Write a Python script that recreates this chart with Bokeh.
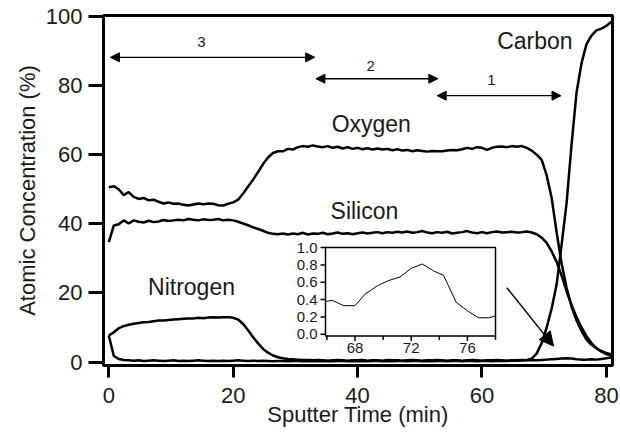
from bokeh.plotting import figure
from bokeh.models import Arrow, NormalHead, ColumnDataSource, FixedTicker, Range1d
from bokeh.embed import file_html
from bokeh.resources import INLINE
from bokeh.core.properties import value

# ---------------- data ----------------
TIME = [0.0, 0.8, 1.6, 2.4, 3.2, 4.0, 4.8, 5.6, 6.4, 7.2,
        8.0, 8.8, 9.6, 10.4, 11.2, 12.0, 12.8, 13.6, 14.4, 15.2,
        16.0, 16.8, 17.6, 18.4, 19.2, 20.0, 20.8, 21.6, 22.4, 23.2,
        24.0, 24.8, 25.6, 26.4, 27.2, 28.0, 28.8, 29.6, 30.4, 31.2,
        32.0, 32.8, 33.6, 34.4, 35.2, 36.0, 36.8, 37.6, 38.4, 39.2,
        40.0, 40.8, 41.6, 42.4, 43.2, 44.0, 44.8, 45.6, 46.4, 47.2,
        48.0, 48.8, 49.6, 50.4, 51.2, 52.0, 52.8, 53.6, 54.4, 55.2,
        56.0, 56.8, 57.6, 58.4, 59.2, 60.0, 60.8, 61.6, 62.4, 63.2,
        64.0, 64.8, 65.6, 66.4, 67.2, 68.0, 68.8, 69.6, 70.4, 71.2,
        72.0, 72.8, 73.6, 74.4, 75.2, 76.0, 76.8, 77.6, 78.4, 79.2,
        80.0, 80.8]

OXYGEN = [50.6, 50.9, 50.0, 48.3, 49.2, 47.8, 47.2, 47.5, 46.8, 47.0,
          46.4, 45.9, 46.2, 45.8, 45.9, 45.5, 45.3, 45.6, 45.9, 45.7,
          45.9, 45.8, 45.4, 45.3, 45.8, 46.2, 47.0, 48.8, 50.8, 52.8,
          55.0, 57.3, 59.2, 60.5, 61.0, 61.0, 61.7, 61.5, 62.2, 62.5,
          62.3, 62.7, 62.4, 62.2, 62.5, 62.0, 62.3, 61.8, 62.2, 61.7,
          62.0, 61.6, 61.9, 61.5, 61.8, 61.5, 61.7, 61.3, 61.6, 61.2,
          61.4, 61.0, 61.3, 61.1, 60.9, 61.1, 61.0, 61.0, 61.2, 61.4,
          61.3, 61.6, 62.0, 61.7, 62.2, 62.0, 61.4, 62.0, 62.3, 62.4,
          62.2, 62.5, 62.3, 62.5, 62.0, 61.2, 60.0, 58.5, 54.0, 47.5,
          37.5, 28.5, 21.5, 16.0, 12.0, 9.0, 6.5, 5.0, 4.0, 3.2,
          2.6, 2.2]

SILICON = [34.7, 39.5, 39.9, 41.0, 40.1, 41.0, 40.6, 40.4, 40.9, 40.5,
           40.7, 41.1, 40.8, 41.0, 41.2, 41.0, 41.4, 41.2, 41.0, 41.3,
           41.1, 41.2, 41.4, 41.0, 41.2, 41.0, 40.6, 40.1, 39.6, 39.0,
           38.5, 38.0, 37.4, 37.1, 37.0, 37.2, 36.9, 37.2, 37.0, 37.4,
           36.9, 37.2, 37.1, 37.4, 37.0, 37.2, 37.5, 37.1, 37.3, 37.0,
           37.3, 37.5, 37.2, 37.4, 37.6, 37.3, 37.6, 37.4, 37.7, 37.5,
           37.8, 37.4, 37.6, 37.9, 37.5, 37.3, 37.6, 37.4, 37.7, 37.2,
           37.4, 37.6, 37.9, 37.5, 37.3, 37.6, 37.3, 37.6, 37.8, 37.5,
           37.6, 37.7, 37.5, 37.6, 37.8, 37.5, 37.0, 36.0, 34.5, 32.0,
           29.0, 25.0, 20.5, 16.5, 13.0, 10.0, 7.5, 5.5, 4.0, 3.0,
           2.3, 1.8]

NITROGEN = [7.7, 8.6, 9.8, 10.4, 10.8, 11.1, 11.3, 11.5, 11.6, 11.8,
            12.0, 12.0, 12.2, 12.3, 12.4, 12.5, 12.6, 12.6, 12.8, 12.7,
            12.9, 13.0, 12.9, 13.0, 13.0, 12.8, 12.3, 11.0, 9.2, 7.2,
            5.4, 3.8, 2.7, 1.9, 1.4, 1.1, 0.9, 0.8, 0.7, 0.6,
            0.6, 0.5, 0.6, 0.5, 0.4, 0.5, 0.6, 0.5, 0.4, 0.5,
            0.5, 0.6, 0.4, 0.5, 0.5, 0.4, 0.6, 0.5, 0.5, 0.4,
            0.5, 0.6, 0.5, 0.4, 0.5, 0.5, 0.6, 0.5, 0.4, 0.5,
            0.5, 0.4, 0.5, 0.6, 0.5, 0.4, 0.5, 0.5, 0.6, 0.5,
            0.4, 0.5, 0.5, 0.6, 0.5, 0.6, 0.5, 0.6, 0.7, 0.8,
            0.9, 1.0, 1.1, 1.0, 0.8, 0.7, 0.7, 0.8, 0.7, 0.9,
            1.1, 1.3]

CARBON = [7.7, 1.8, 0.9, 0.6, 0.5, 0.4, 0.5, 0.3, 0.4, 0.5,
          0.4, 0.3, 0.4, 0.5, 0.3, 0.4, 0.3, 0.4, 0.5, 0.4,
          0.3, 0.4, 0.3, 0.4, 0.3, 0.4, 0.5, 0.4, 0.3, 0.4,
          0.3, 0.4, 0.3, 0.2, 0.3, 0.3, 0.2, 0.3, 0.3, 0.2,
          0.3, 0.2, 0.3, 0.2, 0.3, 0.2, 0.3, 0.3, 0.2, 0.3,
          0.2, 0.3, 0.2, 0.3, 0.3, 0.2, 0.3, 0.2, 0.3, 0.3,
          0.2, 0.3, 0.3, 0.2, 0.3, 0.2, 0.3, 0.3, 0.2, 0.3,
          0.3, 0.2, 0.3, 0.3, 0.2, 0.3, 0.3, 0.2, 0.3, 0.3,
          0.3, 0.4, 0.4, 0.5, 0.6, 1.0, 2.5, 5.5, 10.0, 15.5,
          22.5, 34.0, 46.0, 63.0, 78.0, 86.5, 92.0, 94.5, 96.0, 96.5,
          97.3, 98.5]

X_TICKS = [0, 20, 40, 60, 80]
Y_TICKS = [0, 20, 40, 60, 80, 100]

# inset (zoomed trace)
INSET_T = [65.9, 66.4, 67.2, 68.0, 68.7, 69.6, 70.4, 71.2, 72.0,
           72.8, 73.6, 74.3, 75.2, 76.0, 76.8, 77.5, 78.0]
INSET_V = [0.38, 0.39, 0.33, 0.33, 0.46, 0.56, 0.62, 0.66, 0.76,
           0.81, 0.73, 0.68, 0.37, 0.27, 0.19, 0.19, 0.21]
INSET_X_TICKS = [68, 72, 76]
INSET_X_LABELS = ["68", "72", "76"]
INSET_X_MINOR = [66, 70, 74, 78]
INSET_Y_TICKS = [0.0, 0.2, 0.4, 0.6, 0.8, 1.0]
INSET_Y_LABELS = ["0.0", "0.2", "0.4", "0.6", "0.8", "1.0"]
INSET_X_RANGE = (65.9, 78.0)
INSET_Y_RANGE = (-0.02, 1.0)
# where the inset box sits, in the main plot's data units
INSET_BOX_X = (34.84, 62.17)
INSET_BOX_Y = (7.53, 33.14)

# annotations
SERIES_NAMES = ["Carbon", "Oxygen", "Silicon", "Nitrogen"]
NAME_X = [68.5, 42.2, 41.1, 13.3]
NAME_Y = [92.9, 68.9, 43.8, 21.6]

REGION_LABELS = ["3", "2", "1"]
REGION_START = [0.27, 33.3, 52.8]
REGION_END = [33.1, 52.9, 72.7]
REGION_Y = [88.2, 82.0, 77.1]
REGION_LABEL_X = [14.9, 42.1, 61.5]
REGION_LABEL_Y = [92.6, 85.8, 81.5]

POINTER_START = (64.0, 21.5)
POINTER_END = (71.5, 4.6)

FONT = "Liberation Sans"
INK = "#1a1a1a"

# ---------------- main figure ----------------
p = figure(width=620, height=433,
           x_range=Range1d(-0.85, 80.98), y_range=Range1d(-1.0, 100.3),
           output_backend="svg", toolbar_location=None,
           min_border_left=103, min_border_right=8,
           min_border_top=15, min_border_bottom=68)
p.grid.visible = False
p.outline_line_color = "black"
p.outline_line_width = 3
p.outline_line_alpha = 1.0
p.background_fill_color = "white"
p.border_fill_color = "white"

p.xaxis.ticker = FixedTicker(ticks=X_TICKS)
p.yaxis.ticker = FixedTicker(ticks=Y_TICKS)
for ax in (p.xaxis[0], p.yaxis[0]):
    ax.axis_line_width = 3
    ax.axis_line_color = "black"
    ax.major_tick_line_width = 3
    ax.major_tick_line_color = "black"
    ax.major_tick_in = 0
    ax.minor_tick_in = 0
    ax.minor_tick_out = 0
    ax.major_label_text_font = FONT
    ax.major_label_text_color = INK
    ax.major_label_text_font_size = "22px"
    ax.axis_label_text_font = FONT
    ax.axis_label_text_color = INK
    ax.axis_label_text_font_style = "normal"
    ax.axis_label_text_font_size = "22px"

p.xaxis.major_tick_out = 12
p.xaxis.major_label_standoff = 10
p.xaxis.axis_label = "Sputter Time (min)"
p.xaxis.axis_label_standoff = -4

p.yaxis.major_tick_out = 15
p.yaxis.major_label_standoff = 6
p.yaxis.axis_label = "Atomic Concentration (%)"
p.yaxis.axis_label_standoff = 3

for series in (OXYGEN, SILICON, NITROGEN, CARBON):
    p.line(TIME, series, line_width=2.5, line_color="black")

# species names
p.text(x=NAME_X, y=NAME_Y, text=SERIES_NAMES,
       text_font=value(FONT), text_font_size=value("23px"),
       text_color=INK, text_align="center", text_baseline="middle")

# region arrows
reg_src = ColumnDataSource(dict(x0=REGION_START, x1=REGION_END, y=REGION_Y))
p.add_layout(Arrow(start=NormalHead(size=9, fill_color="black", line_color="black", line_width=1),
                   end=NormalHead(size=9, fill_color="black", line_color="black", line_width=1),
                   x_start="x0", y_start="y", x_end="x1", y_end="y",
                   source=reg_src, line_width=1.3, line_color="black"))
p.text(x=REGION_LABEL_X, y=REGION_LABEL_Y, text=REGION_LABELS,
       text_font=value(FONT), text_font_size=value("15px"),
       text_color=INK, text_align="center", text_baseline="middle")

# pointer arrow
p.add_layout(Arrow(end=NormalHead(size=14, fill_color="black", line_color="black", line_width=1),
                   x_start=POINTER_START[0], y_start=POINTER_START[1],
                   x_end=POINTER_END[0], y_end=POINTER_END[1],
                   line_width=1.5, line_color="black"))

# ---------------- inset (sub-coordinates) ----------------
sub = p.subplot(x_source=Range1d(*INSET_X_RANGE), y_source=Range1d(*INSET_Y_RANGE),
                x_target=Range1d(*INSET_BOX_X), y_target=Range1d(*INSET_BOX_Y))

x_lo, x_hi = INSET_X_RANGE
y_lo, y_hi = INSET_Y_RANGE
x_per_px = (x_hi - x_lo) / 170.0
y_per_px = (y_hi - y_lo) / 88.5

sub.quad(left=x_lo, right=x_hi, bottom=y_lo, top=y_hi,
         fill_color="white", line_color="black", line_width=1.5)
sub.line(INSET_T, INSET_V, line_width=1, line_color="black")

# x ticks (major + minor) and labels
sub.segment(x0=INSET_X_TICKS, y0=y_lo, x1=INSET_X_TICKS, y1=y_lo - 5 * y_per_px,
            line_color="black", line_width=1.5)
sub.segment(x0=INSET_X_MINOR, y0=y_lo, x1=INSET_X_MINOR, y1=y_lo - 4 * y_per_px,
            line_color="black", line_width=1.5)
sub.text(x=INSET_X_TICKS, y=y_lo - 7 * y_per_px, text=INSET_X_LABELS,
         text_font=value(FONT), text_font_size=value("15px"), text_color=INK,
         text_align="center", text_baseline="top")

# y ticks and labels
sub.segment(x0=x_lo, y0=INSET_Y_TICKS, x1=x_lo - 5 * x_per_px, y1=INSET_Y_TICKS,
            line_color="black", line_width=1.5)
sub.text(x=x_lo - 8 * x_per_px, y=INSET_Y_TICKS, text=INSET_Y_LABELS,
         text_font=value(FONT), text_font_size=value("15px"), text_color=INK,
         text_align="right", text_baseline="middle")

open("out.html", "w").write(file_html(p, INLINE))
